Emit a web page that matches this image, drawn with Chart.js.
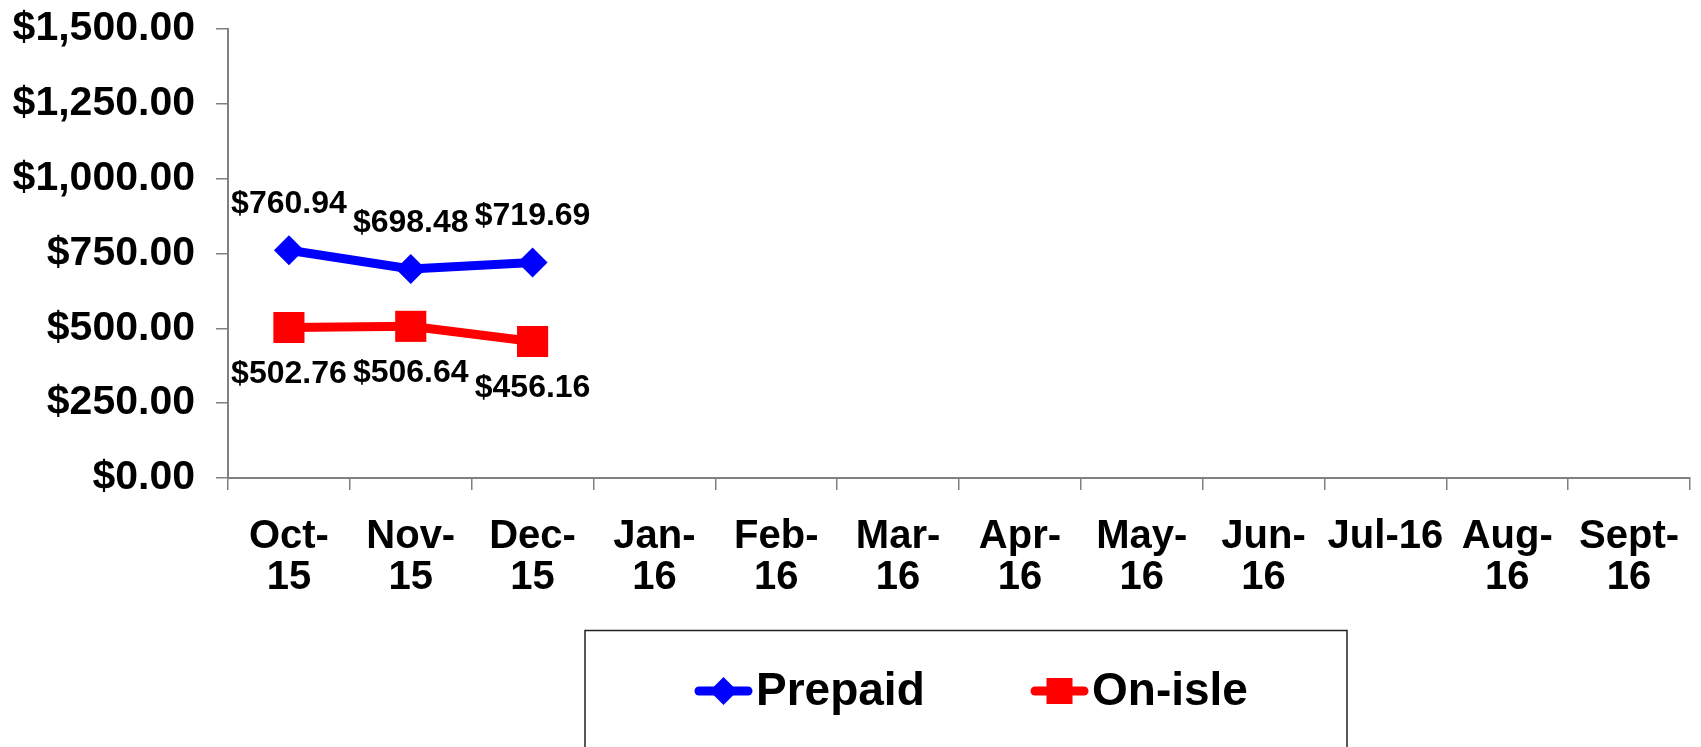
<!DOCTYPE html>
<html>
<head>
<meta charset="utf-8">
<script src="https://cdn.jsdelivr.net/npm/chart.js@4.4.1/dist/chart.umd.min.js"></script>
<style>
  html, body { margin: 0; padding: 0; background: #ffffff; overflow: hidden; }
  #wrap { width: 1701px; height: 747px; position: relative; }
  #c { display: block; width: 1701px; height: 747px; }
</style>
</head>
<body>
<div id="wrap"><canvas id="c" width="1701" height="747"></canvas></div>
<script>
const categories = [
  ['Oct-', '15'], ['Nov-', '15'], ['Dec-', '15'], ['Jan-', '16'], ['Feb-', '16'], ['Mar-', '16'],
  ['Apr-', '16'], ['May-', '16'], ['Jun-', '16'], ['Jul-16'], ['Aug-', '16'], ['Sept-', '16']
];
const prepaid = [760.94, 698.48, 719.69, null, null, null, null, null, null, null, null, null];
const onIsle  = [502.76, 506.64, 456.16, null, null, null, null, null, null, null, null, null];
const seriesNames = ['Prepaid', 'On-isle'];
const yTickValues = [0, 250, 500, 750, 1000, 1250, 1500];

const FONT = "'Liberation Sans', Arial, sans-serif";
const fmt = v => '$' + Number(v).toLocaleString('en-US', { minimumFractionDigits: 2, maximumFractionDigits: 2 });

function zeroPadding(scale) {
  scale.paddingTop = 0;
  scale.paddingBottom = 0;
  scale.paddingLeft = 0;
  scale.paddingRight = 0;
}

const dataLabelPlugin = {
  id: 'dataLabels',
  afterDatasetsDraw(chart) {
    const ctx = chart.ctx;
    ctx.save();
    ctx.font = 'bold 32px ' + FONT;
    ctx.fillStyle = '#000000';
    ctx.textAlign = 'center';
    ctx.textBaseline = 'middle';
    chart.data.datasets.forEach((ds, di) => {
      const meta = chart.getDatasetMeta(di);
      meta.data.forEach((el, i) => {
        const v = ds.data[i];
        if (v === null || v === undefined) return;
        const dy = di === 0 ? -46 : 47;
        ctx.fillText(fmt(v), el.x, el.y + dy);
      });
    });
    ctx.restore();
  }
};

const legendPlugin = {
  id: 'boxLegend',
  afterDraw(chart) {
    const ctx = chart.ctx;
    ctx.save();
    ctx.strokeStyle = '#222222';
    ctx.lineWidth = 1.5;
    ctx.strokeRect(585, 630.5, 762, 140);
    const items = [{ x: 695, ds: 0 }, { x: 1031, ds: 1 }];
    const cy = 691;
    items.forEach(it => {
      const ds = chart.data.datasets[it.ds];
      ctx.strokeStyle = ds.borderColor;
      ctx.lineWidth = 9;
      ctx.lineCap = 'round';
      ctx.beginPath();
      ctx.moveTo(it.x + 4, cy);
      ctx.lineTo(it.x + 53, cy);
      ctx.stroke();
      ctx.fillStyle = ds.backgroundColor;
      const mx = it.x + 28.5;
      if (ds.pointStyle === 'rectRot') {
        ctx.beginPath();
        ctx.moveTo(mx, cy - 14);
        ctx.lineTo(mx + 14, cy);
        ctx.lineTo(mx, cy + 14);
        ctx.lineTo(mx - 14, cy);
        ctx.closePath();
        ctx.fill();
      } else {
        ctx.fillRect(mx - 13, cy - 13, 26, 26);
      }
      ctx.fillStyle = '#000000';
      ctx.font = 'bold 46px ' + FONT;
      ctx.textAlign = 'left';
      ctx.textBaseline = 'middle';
      ctx.fillText(ds.label, it.x + 61, cy + 1);
    });
    ctx.restore();
  }
};

new Chart(document.getElementById('c'), {
  type: 'line',
  data: {
    labels: categories,
    datasets: [
      {
        label: seriesNames[0],
        data: prepaid,
        borderColor: '#0000FF',
        backgroundColor: '#0000FF',
        borderWidth: 9,
        pointStyle: 'rectRot',
        pointRadius: 15,
        pointHoverRadius: 15,
        pointBorderWidth: 0,
        tension: 0,
        spanGaps: false,
        clip: false
      },
      {
        label: seriesNames[1],
        data: onIsle,
        borderColor: '#FF0000',
        backgroundColor: '#FF0000',
        borderWidth: 9,
        pointStyle: 'rect',
        pointRadius: 22,
        pointHoverRadius: 22,
        pointBorderWidth: 0,
        tension: 0,
        spanGaps: false,
        clip: false
      }
    ]
  },
  options: {
    responsive: false,
    animation: false,
    events: [],
    layout: { autoPadding: false, padding: { top: 29, right: 11, left: 0, bottom: 0 } },
    plugins: {
      legend: { display: false },
      tooltip: { enabled: false }
    },
    scales: {
      x: {
        type: 'category',
        offset: true,
        grid: {
          offset: true,
          drawOnChartArea: false,
          drawTicks: true,
          tickLength: 12,
          color: '#808080',
          lineWidth: 1.5
        },
        border: { display: true, color: '#808080', width: 2 },
        ticks: {
          color: '#000000',
          font: { family: FONT, size: 40, weight: 'bold', lineHeight: 1.02 },
          padding: 27,
          maxRotation: 0,
          minRotation: 0,
          autoSkip: false
        },
        afterFit(scale) { scale.height = 269; zeroPadding(scale); }
      },
      y: {
        min: 0,
        max: 1500,
        afterBuildTicks(scale) { scale.ticks = yTickValues.map(v => ({ value: v })); },
        grid: {
          drawOnChartArea: false,
          drawTicks: true,
          tickLength: 12,
          color: '#808080',
          lineWidth: 1.5
        },
        border: { display: true, color: '#808080', width: 2 },
        ticks: {
          color: '#000000',
          font: { family: FONT, size: 41, weight: 'bold' },
          padding: 21,
          callback: v => fmt(v)
        },
        afterFit(scale) { scale.width = 228; zeroPadding(scale); }
      }
    }
  },
  plugins: [dataLabelPlugin, legendPlugin]
});
</script>
</body>
</html>
